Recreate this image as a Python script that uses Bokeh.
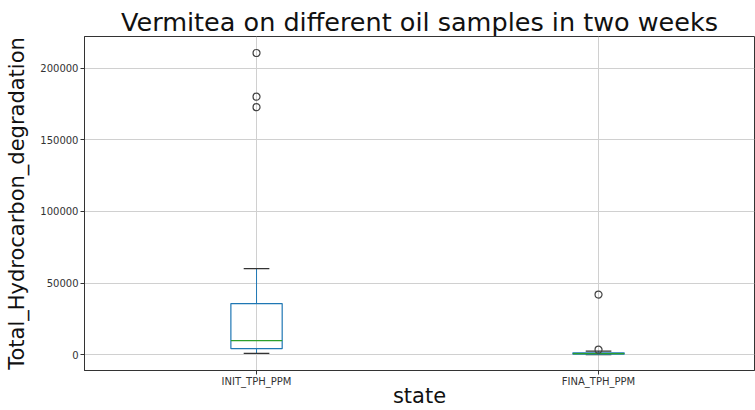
from bokeh.plotting import figure
from bokeh.models import Range1d, FixedTicker, ColumnDataSource
from bokeh.embed import file_html
from bokeh.resources import INLINE

categories = ["INIT_TPH_PPM", "FINA_TPH_PPM"]
positions = [1, 2]
q1 = [4200, 400]
median = [9800, 800]
q3 = [35700, 1300]
whisker_low = [900, 0]
whisker_high = [60100, 2500]
outliers_init = [210500, 180000, 172700]
outliers_fina = [42000, 3500]

box_w = 0.15
cap_w = 0.075

p = figure(width=755, height=410, output_backend="svg", toolbar_location=None,
           x_range=Range1d(0.497, 2.456), y_range=Range1d(-11000, 222000),
           min_border_left=84, min_border_right=1, min_border_top=36, min_border_bottom=40)

p.title.text = "Vermitea on different oil samples in two weeks"
p.title.text_font = "DejaVu Sans"
p.title.text_font_size = "25.5px"
p.title.text_font_style = "normal"
p.title.align = "center"
p.title.text_color = "#111111"
p.title.offset = 5
p.title.standoff = 0

src = ColumnDataSource(dict(
    x=positions,
    left=[x - box_w / 2 for x in positions],
    right=[x + box_w / 2 for x in positions],
    cl=[x - cap_w / 2 for x in positions],
    cr=[x + cap_w / 2 for x in positions],
    q1=q1, q3=q3, med=median, lo=whisker_low, hi=whisker_high,
))

# whiskers
p.segment(x0="x", y0="q3", x1="x", y1="hi", source=src, line_color="#1f77b4", line_width=1)
p.segment(x0="x", y0="q1", x1="x", y1="lo", source=src, line_color="#1f77b4", line_width=1)
# caps
p.segment(x0="cl", y0="hi", x1="cr", y1="hi", source=src, line_color="#333333", line_width=1.2)
p.segment(x0="cl", y0="lo", x1="cr", y1="lo", source=src, line_color="#333333", line_width=1.2)
# boxes
p.quad(left="left", right="right", bottom="q1", top="q3", source=src,
       fill_color=None, line_color="#1f77b4", line_width=1.2)
# medians
p.segment(x0="left", y0="med", x1="right", y1="med", source=src, line_color="#2ca02c", line_width=1.2)

# outliers
ox = [positions[0]] * len(outliers_init) + [positions[1]] * len(outliers_fina)
oy = outliers_init + outliers_fina
p.scatter(ox, oy, marker="circle", size=7, fill_color=None, line_color="#444444", line_width=1.2)

# axes
p.xaxis.ticker = FixedTicker(ticks=positions)
p.xaxis.major_label_overrides = {positions[0]: categories[0], positions[1]: categories[1]}
p.yaxis.ticker = FixedTicker(ticks=[0, 50000, 100000, 150000, 200000])
p.yaxis.formatter.use_scientific = False
for ax in (p.xaxis, p.yaxis):
    ax.major_label_text_font = "DejaVu Sans"
    ax.major_label_text_font_size = "10px"
    ax.major_label_text_color = "#333333"
    ax.axis_label_text_font = "DejaVu Sans"
    ax.axis_label_text_font_style = "normal"
    ax.axis_label_text_color = "#111111"
    ax.minor_tick_line_color = None
    ax.major_tick_out = 4
    ax.major_tick_in = 0
    ax.major_label_standoff = 2
    ax.axis_line_color = "#333333"
    ax.major_tick_line_color = "#333333"
p.xaxis.axis_label = "state"
p.yaxis.axis_label = "Total_Hydrocarbon_degradation"
p.xaxis.axis_label_text_font_size = "21px"
p.yaxis.axis_label_text_font_size = "21px"
p.xaxis.axis_label_standoff = -6
p.xaxis.major_label_standoff = 1
p.yaxis.axis_label_standoff = 8

p.grid.grid_line_color = "#d0d0d0"
p.grid.grid_line_width = 1
p.outline_line_color = "#333333"
p.outline_line_width = 1
p.background_fill_color = "white"

open("out.html", "w").write(file_html(p, INLINE))
